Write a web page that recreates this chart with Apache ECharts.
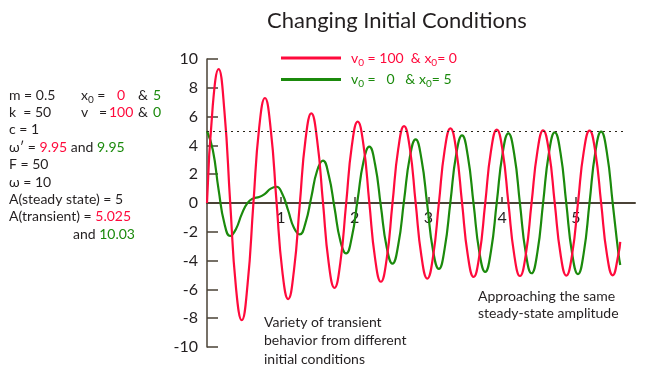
<!DOCTYPE html>
<html>
<head>
<meta charset="utf-8">
<script src="https://cdn.jsdelivr.net/npm/echarts@6/dist/echarts.min.js"></script>
<style>html,body{margin:0;padding:0;background:#fff}#c{width:648px;height:372px}</style>
</head>
<body>
<div id="c"></div>
<script>
// time samples (s)
const tValues = [0,0.079,0.157,0.236,0.314,0.393,0.471,0.550,0.628,0.707,0.785,0.864,0.942,1.021,1.100,1.178,1.257,1.335,1.414,1.492,1.571,1.649,1.728,1.806,1.885,1.963,2.042,2.121,2.199,2.278,2.356,2.435,2.513,2.592,2.670,2.749,2.827,2.906,2.985,3.063,3.142,3.220,3.299,3.377,3.456,3.534,3.613,3.691,3.770,3.848,3.927,4.006,4.084,4.163,4.241,4.320,4.398,4.477,4.555,4.634,4.712,4.791,4.869,4.948,5.027,5.105,5.184,5.262,5.341,5.419,5.498,5.576,5.600];
// v0 = 100 & x0 = 0
const redValues = [0,6.81,9.29,6.38,0.06,-5.89,-8.14,-5.64,-0.08,5.23,7.29,5.10,0.09,-4.75,-6.67,-4.69,-0.09,4.41,6.22,4.39,0.08,-4.16,-5.89,-4.17,-0.07,3.98,5.65,4.01,0.06,-3.86,-5.47,-3.88,-0.05,3.77,5.34,3.79,0.04,-3.70,-5.25,-3.73,-0.03,3.65,5.18,3.68,0.03,-3.62,-5.13,-3.64,-0.02,3.60,5.10,3.61,0.02,-3.58,-5.07,-3.59,-0.01,3.57,5.05,3.58,0.01,-3.56,-5.04,-3.57,-0.01,3.55,5.03,3.56,0.01,-3.55,-5.02,-3.55,-2.7];
// v0 = 0 & x0 = 5
const greenValues = [5,3.68,0.93,-1.42,-2.29,-1.80,-0.77,0.01,0.32,0.41,0.64,1.00,1.13,0.62,-0.52,-1.72,-2.18,-1.38,0.42,2.24,2.94,1.94,-0.33,-2.61,-3.50,-2.36,0.26,2.88,3.91,2.67,-0.21,-3.07,-4.21,-2.90,0.16,3.20,4.42,3.06,-0.13,-3.30,-4.58,-3.19,0.10,3.37,4.69,3.28,-0.08,-3.42,-4.78,-3.35,0.06,3.45,4.84,3.40,-0.04,-3.48,-4.88,-3.43,0.03,3.49,4.91,3.46,-0.03,-3.51,-4.94,-3.48,0.02,3.51,4.95,3.50,-0.02,-3.52,-4.3];
const steadyAmplitude = 5;
const steadyLineEnd = 5.67;
const xTicks = [1,2,3,4,5];

const RED = '#ff0a3c', GREEN = '#1b8a0c', INK = '#231f20', AXIS = '#4a4236';
const FONT = 'Lato';
const chart = echarts.init(document.getElementById('c'), null, {renderer:'canvas'});
const zip = (vals) => tValues.map((t,i) => [t, vals[i]]);
function rt(x, y, text, rich){
  return {type:'text', left:x, top:y, style:{text, fontFamily:FONT, fontSize:14, fill:INK, rich: rich||{}}};
}
const panelRich = {
  R:{fontFamily:FONT,fontSize:14,fill:RED,color:RED},
  G:{fontFamily:FONT,fontSize:14,fill:GREEN,color:GREEN},
  s:{fontFamily:FONT,fontSize:10,color:INK,padding:[9,0,0,0]}
};
const L0 = 88, LH = 17.4;
const graphics = [
  rt(9, L0, 'm = 0.5'),
  rt(81, L0, 'x{s|0} =', panelRich),
  rt(117, L0, '{R|0}', panelRich),
  rt(138, L0, '&'),
  rt(153, L0, '{G|5}', panelRich),
  rt(9, L0+LH, 'k  = 50'),
  rt(81, L0+LH, 'v   =', panelRich),
  rt(109, L0+LH, '{R|100}', panelRich),
  rt(138, L0+LH, '&'),
  rt(153, L0+LH, '{G|0}', panelRich),
  rt(9, L0+2*LH, 'c = 1'),
  rt(9, L0+3*LH, 'ω′ = {R|9.95} and {G|9.95}', panelRich),
  rt(9, L0+4*LH, 'F = 50'),
  rt(9, L0+5*LH, 'ω = 10'),
  rt(9, L0+6*LH, 'A(steady state) = 5'),
  rt(9, L0+7*LH, 'A(transient) = {R|5.025}', panelRich),
  rt(73, L0+8*LH, 'and {G|10.03}', panelRich),
  {type:'text', left:264, top:313, style:{text:'Variety of transient\nbehavior from different\ninitial conditions', fontFamily:FONT, fontSize:14, lineHeight:18.5, fill:INK}},
  {type:'text', left:478, top:288, style:{text:'Approaching the same\nsteady-state amplitude', fontFamily:FONT, fontSize:14, lineHeight:17, fill:INK}}
];

const legendRich = {
  t:{fontFamily:FONT,fontSize:14},
  s:{fontFamily:FONT,fontSize:10,padding:[9,0,0,0]},
  g:{width:5}
};
chart.setOption({
  animation:false,
  title:{text:'Changing Initial Conditions', left:267, top:10, padding:0, textStyle:{fontFamily:FONT, fontSize:22, fontWeight:'normal', color:INK}},
  grid:{left:207, top:59, width:428, height:288, containLabel:false},
  legend:{
    orient:'vertical', left:281, top:51, padding:0, icon:'rect', itemWidth:60, itemHeight:3, itemGap:5,
    data:[{name:'red', textStyle:{color:RED}},{name:'green', textStyle:{color:GREEN}}],
    formatter:(n)=> n==='red' ? '{g|}{t|v}{s|0}{t| = 100  & x}{s|0}{t|= 0}' : '{g|}{t|v}{s|0}{t| =   0   & x}{s|0}{t|= 5}',
    textStyle:{fontFamily:FONT, fontSize:14, rich:legendRich}
  },
  xAxis:{type:'value', min:0, max:5.8, interval:1,
    axisLine:{show:true, onZero:true, lineStyle:{color:AXIS, width:2}},
    axisTick:{show:true, inside:true, length:6, customValues:xTicks, lineStyle:{color:AXIS, width:1.5}},
    axisLabel:{show:true, customValues:xTicks, color:INK, fontFamily:FONT, fontSize:16, margin:-137,
      formatter:(v)=> String(v)},
    splitLine:{show:false}},
  yAxis:{type:'value', min:-10, max:10, interval:2,
    axisLine:{show:true, onZero:false, lineStyle:{color:AXIS, width:1.5}},
    axisTick:{show:true, inside:true, length:11, lineStyle:{color:AXIS, width:1.5}},
    axisLabel:{color:INK, fontFamily:FONT, fontSize:16, margin:9},
    splitLine:{show:false}},
  series:[
    {name:'red', type:'line', data:zip(redValues), smooth:0.5, showSymbol:false, lineStyle:{color:RED, width:2.2}, itemStyle:{color:RED}, z:3,
     markLine:{silent:true, symbol:'none', label:{show:false}, lineStyle:{color:'#2a2418', type:[2,4], width:1.2},
       data:[[{coord:[0,steadyAmplitude]},{coord:[steadyLineEnd,steadyAmplitude]}]]}},
    {name:'green', type:'line', data:zip(greenValues), smooth:0.5, showSymbol:false, lineStyle:{color:GREEN, width:2.2}, itemStyle:{color:GREEN}, z:2}
  ],
  graphic:graphics
});
</script>
</body>
</html>
